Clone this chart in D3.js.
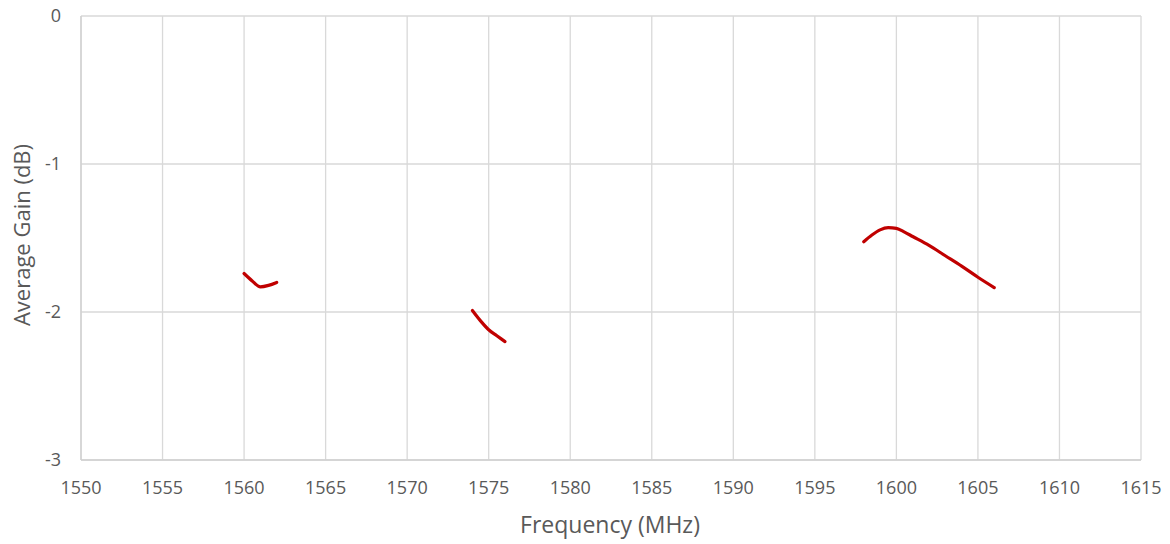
<!DOCTYPE html>
<html><head><meta charset="utf-8">
<script src="https://cdn.jsdelivr.net/npm/d3@7"></script>
<style>body{margin:0;background:#fff;} text{font-family:"Open Sans",sans-serif;}</style>
</head><body>
<svg id="c" width="1170" height="544"></svg>
<script>
const xTicks = [1550,1555,1560,1565,1570,1575,1580,1585,1590,1595,1600,1605,1610,1615];
const yTicks = [0,-1,-2,-3];
const seg1Freq = [1560,1560.5,1561,1561.5,1562];
const seg1Gain = [-1.74,-1.79,-1.83,-1.82,-1.80];
const seg2Freq = [1574,1574.5,1575,1575.5,1576];
const seg2Gain = [-1.99,-2.06,-2.12,-2.16,-2.20];
const seg3Freq = [1598,1598.5,1599,1599.5,1600,1600.5,1601,1602,1603,1604,1605,1606];
const seg3Gain = [-1.525,-1.48,-1.445,-1.43,-1.435,-1.46,-1.49,-1.55,-1.62,-1.69,-1.765,-1.835];

const svg = d3.select("#c");
const L=81, R=1141, T=16, B=460;
const x = d3.scaleLinear().domain([1550,1615]).range([L,R]);
const y = d3.scaleLinear().domain([-3,0]).range([B,T]);

svg.append("g").selectAll("line").data(xTicks).join("line")
  .attr("x1",d=>x(d)).attr("x2",d=>x(d)).attr("y1",T).attr("y2",B)
  .attr("stroke","#d9d9d9").attr("stroke-width",1.3);
svg.append("g").selectAll("line").data(yTicks).join("line")
  .attr("x1",L).attr("x2",R).attr("y1",d=>y(d)).attr("y2",d=>y(d))
  .attr("stroke","#d9d9d9").attr("stroke-width",1.3);
svg.append("line").attr("x1",L).attr("x2",L).attr("y1",T).attr("y2",B).attr("stroke","#d0d0d0").attr("stroke-width",1.3);
svg.append("line").attr("x1",L).attr("x2",R).attr("y1",B).attr("y2",B).attr("stroke","#d0d0d0").attr("stroke-width",1.3);

svg.append("g").selectAll("text").data(xTicks).join("text")
  .attr("x",d=>x(d)).attr("y",B+34).attr("text-anchor","middle")
  .attr("font-size",18).attr("fill","#595959").text(d=>d);
svg.append("g").selectAll("text").data(yTicks).join("text")
  .attr("x",L-20).attr("y",d=>y(d)+6).attr("text-anchor","end")
  .attr("font-size",18).attr("fill","#595959").text(d=>d);

svg.append("text").attr("x",(L+R)/2 - 1).attr("y",533).attr("text-anchor","middle")
  .attr("font-size",23).attr("fill","#595959").text("Frequency (MHz)");
svg.append("text").attr("transform",`translate(30,${(T+B)/2 - 3}) rotate(-90)`).attr("text-anchor","middle")
  .attr("font-size",22).attr("fill","#595959").text("Average Gain (dB)");

const line = d3.line().x(d=>x(d[0])).y(d=>y(d[1])).curve(d3.curveMonotoneX);
[[seg1Freq,seg1Gain],[seg2Freq,seg2Gain],[seg3Freq,seg3Gain]].forEach(([f,g])=>{
  svg.append("path").datum(f.map((v,i)=>[v,g[i]])).attr("d",line)
    .attr("fill","none").attr("stroke","#c00000").attr("stroke-width",3.2)
    .attr("stroke-linecap","round").attr("stroke-linejoin","round");
});
</script>
</body></html>
